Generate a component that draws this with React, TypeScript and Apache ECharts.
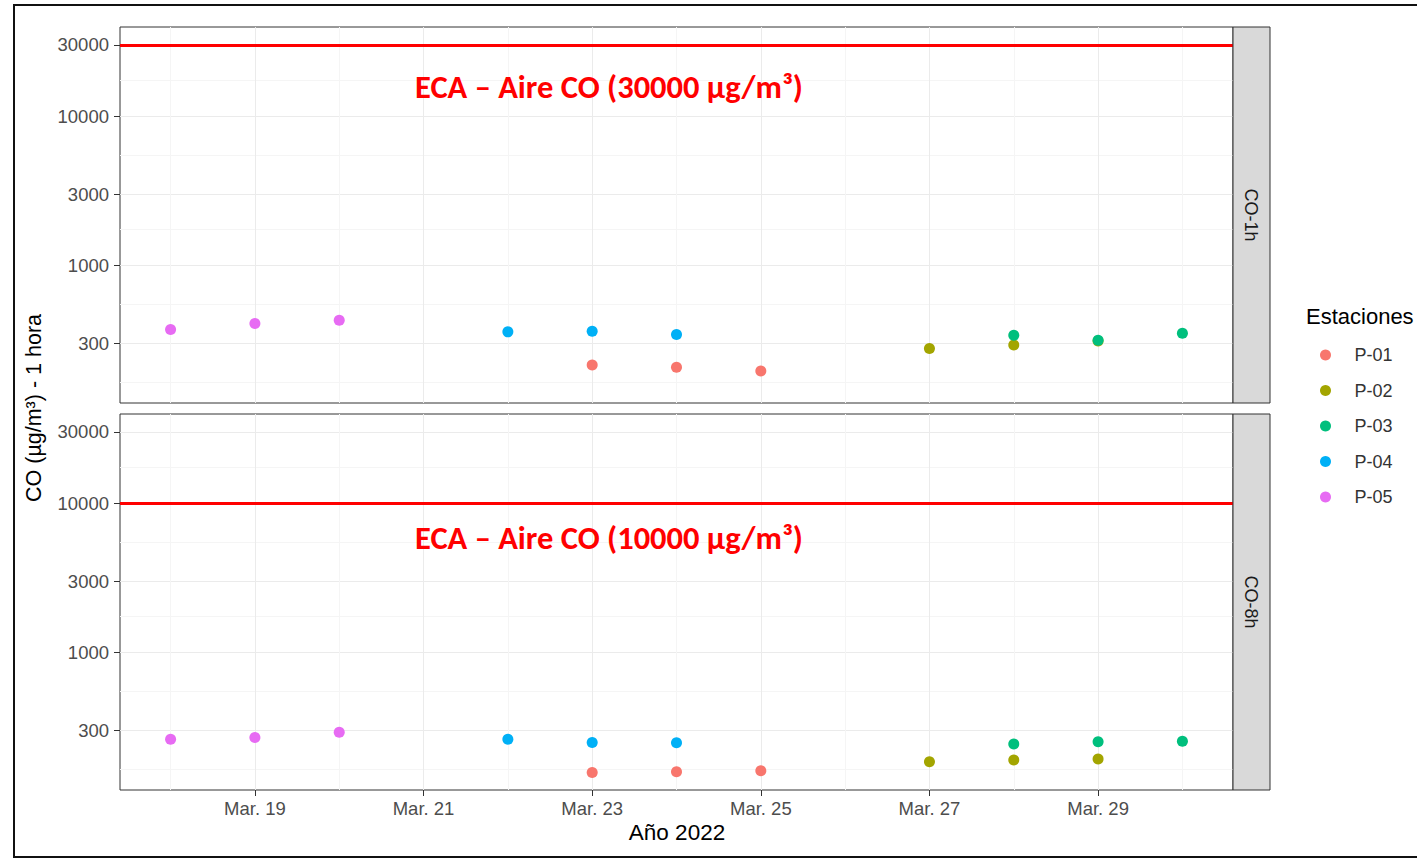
import React, { useEffect, useRef } from 'react';
import * as echarts from 'echarts';

// ---- data (days of March 2022) ----
const stations = ['P-01', 'P-02', 'P-03', 'P-04', 'P-05'];
const stationColors = ['#F8766D', '#A3A500', '#00BF7D', '#00B0F6', '#E76BF3'];

const daysP01 = [23, 24, 25];
const daysP02 = [27, 28, 29];
const daysP03 = [28, 29, 30];
const daysP04 = [22, 23, 24];
const daysP05 = [18, 19, 20];

// CO-1h (µg/m3)
const co1hP01 = [214, 207, 195];
const co1hP02 = [276, 291, 310];
const co1hP03 = [339, 314, 350];
const co1hP04 = [357, 360, 343];
const co1hP05 = [370, 406, 427];

// CO-8h (µg/m3)
const co8hP01 = [156, 158, 160];
const co8hP02 = [184, 189, 192];
const co8hP03 = [242, 251, 253];
const co8hP04 = [261, 248, 247];
const co8hP05 = [261, 268, 290];

const panels = ['CO-1h', 'CO-8h'];
const ecaLimits = [30000, 10000];
const ecaLabels = ['ECA – Aire CO (30000 µg/m³)', 'ECA – Aire CO (10000 µg/m³)'];

const yMajorTicks = [300, 1000, 3000, 10000, 30000];
const yMinorTicks = [164, 548, 1732, 5477, 17321];
const xMajorDays = [19, 21, 23, 25, 27, 29];
const xMinorDays = [18, 20, 22, 24, 26, 28, 30];

const stationDays = [daysP01, daysP02, daysP03, daysP04, daysP05];
const panelValues = [
  [co1hP01, co1hP02, co1hP03, co1hP04, co1hP05],
  [co8hP01, co8hP02, co8hP03, co8hP04, co8hP05],
];

const FONT = '"Liberation Sans", Arial, sans-serif';

export default function App() {
  const ref = useRef<HTMLDivElement>(null);

  useEffect(() => {
    if (!ref.current) return;
    const chart = echarts.init(ref.current, null, { renderer: 'svg' });

    const gridTops = [27, 414];
    const ecaTextY = [87, 538];
    const gridH = 376;
    const gridLeft = 120;
    const gridW = 1113;
    const xMin = 17.4;
    const xMax = 30.6;
    const yMin = 119;
    const yMax = 39600;

    const grids = gridTops.map((t) => ({
      left: gridLeft,
      top: t,
      width: gridW,
      height: gridH,
      show: true,
      borderColor: '#333333',
      borderWidth: 1,
      backgroundColor: '#ffffff',
    }));

    const xAxes: any[] = [];
    const yAxes: any[] = [];
    panels.forEach((_, p) => {
      const isBottom = p === 1;
      xAxes.push({
        type: 'value',
        gridIndex: p,
        min: xMin,
        max: xMax,
        axisLine: { show: false },
        axisTick: {
          show: isBottom,
          length: 6,
          customValues: xMajorDays,
          lineStyle: { color: '#333333' },
        },
        axisLabel: {
          show: isBottom,
          customValues: xMajorDays,
          margin: 9,
          fontFamily: FONT,
          fontSize: 18.5,
          color: '#4d4d4d',
          formatter: (v: number) => 'Mar. ' + Math.round(v),
        },
        splitLine: { show: true, lineStyle: { color: '#ebebeb', width: 1 } },
      });
      xAxes.push({
        type: 'value',
        gridIndex: p,
        min: xMin,
        max: xMax,
        axisLine: { show: false },
        axisTick: { show: false, customValues: xMinorDays },
        axisLabel: { show: false },
        splitLine: { show: true, lineStyle: { color: '#f5f5f5', width: 1 } },
      });
      yAxes.push({
        type: 'log',
        gridIndex: p,
        min: yMin,
        max: yMax,
        axisLine: { show: false },
        axisTick: {
          show: true,
          length: 6,
          customValues: yMajorTicks,
          lineStyle: { color: '#333333' },
        },
        axisLabel: {
          show: true,
          customValues: yMajorTicks,
          margin: 11,
          fontFamily: FONT,
          fontSize: 18.5,
          color: '#4d4d4d',
          formatter: (v: number) => String(Math.round(v)),
        },
        splitLine: { show: true, lineStyle: { color: '#ebebeb', width: 1 } },
      });
      yAxes.push({
        type: 'log',
        gridIndex: p,
        min: yMin,
        max: yMax,
        axisLine: { show: false },
        axisTick: { show: false, customValues: yMinorTicks },
        axisLabel: { show: false },
        splitLine: { show: true, lineStyle: { color: '#f5f5f5', width: 1 } },
      });
    });

    const series: any[] = [];
    panels.forEach((_, p) => {
      stations.forEach((name, s) => {
        const item: any = {
          type: 'scatter',
          name,
          xAxisIndex: p * 2,
          yAxisIndex: p * 2,
          symbol: 'circle',
          symbolSize: 11,
          itemStyle: { color: stationColors[s], opacity: 1 },
          data: stationDays[s].map((d, i) => [d, panelValues[p][s][i]]),
          z: 3,
        };
        if (s === 0) {
          item.markLine = {
            silent: true,
            symbol: 'none',
            label: { show: false },
            lineStyle: { color: '#ff0000', width: 3, type: 'solid' },
            data: [{ yAxis: ecaLimits[p] }],
            z: 2,
          };
        }
        series.push(item);
      });
    });

    const graphics: any[] = [];
    panels.forEach((label, p) => {
      graphics.push({
        type: 'rect',
        shape: { x: gridLeft + gridW, y: gridTops[p], width: 37, height: gridH },
        style: { fill: '#d9d9d9', stroke: '#333333', lineWidth: 1 },
        z: 10,
      });
      graphics.push({
        type: 'text',
        x: gridLeft + gridW + 18,
        y: gridTops[p] + gridH / 2,
        rotation: -Math.PI / 2,
        style: {
          text: label,
          font: `18px ${FONT}`,
          fill: '#1a1a1a',
          textAlign: 'center',
          textVerticalAlign: 'middle',
        },
        z: 11,
      });
      graphics.push({
        type: 'text',
        x: 609,
        y: ecaTextY[p],
        style: {
          text: ecaLabels[p],
          font: `bold 32.5px Carlito, Lato, "Open Sans", sans-serif`,
          fill: '#ff0000',
          textAlign: 'center',
          textVerticalAlign: 'middle',
        },
        z: 20,
      });
    });
    graphics.push({
      type: 'text',
      x: 34,
      y: 408,
      rotation: Math.PI / 2,
      style: {
        text: 'CO (µg/m³) - 1 hora',
        font: `21.5px ${FONT}`,
        fill: '#000000',
        textAlign: 'center',
        textVerticalAlign: 'middle',
      },
    });
    graphics.push({
      type: 'text',
      x: 677,
      y: 832,
      style: {
        text: 'Año 2022',
        font: `22.5px ${FONT}`,
        fill: '#000000',
        textAlign: 'center',
        textVerticalAlign: 'middle',
      },
    });
    graphics.push({
      type: 'text',
      x: 1306,
      y: 316,
      style: {
        text: 'Estaciones',
        font: `22px ${FONT}`,
        fill: '#000000',
        textAlign: 'left',
        textVerticalAlign: 'middle',
      },
    });
    graphics.push({
      type: 'rect',
      shape: { x: 14, y: 5, width: 1412, height: 852 },
      style: { fill: 'none', stroke: '#111111', lineWidth: 2 },
      z: 100,
    });

    chart.setOption({
      animation: false,
      backgroundColor: '#ffffff',
      grid: grids,
      xAxis: xAxes,
      yAxis: yAxes,
      series,
      legend: {
        data: stations,
        orient: 'vertical',
        left: 1320,
        top: 346,
        padding: 0,
        itemWidth: 40,
        itemHeight: 11,
        itemGap: 17.5,
        icon: 'circle',
        textStyle: { fontFamily: FONT, fontSize: 18, color: '#333333', padding: [0, 0, 0, 4] },
      },
      graphic: graphics,
    });

    return () => chart.dispose();
  }, []);

  return (
    <div
      ref={ref}
      style={{ position: 'absolute', left: 0, top: 0, width: 1417, height: 859 }}
    />
  );
}
